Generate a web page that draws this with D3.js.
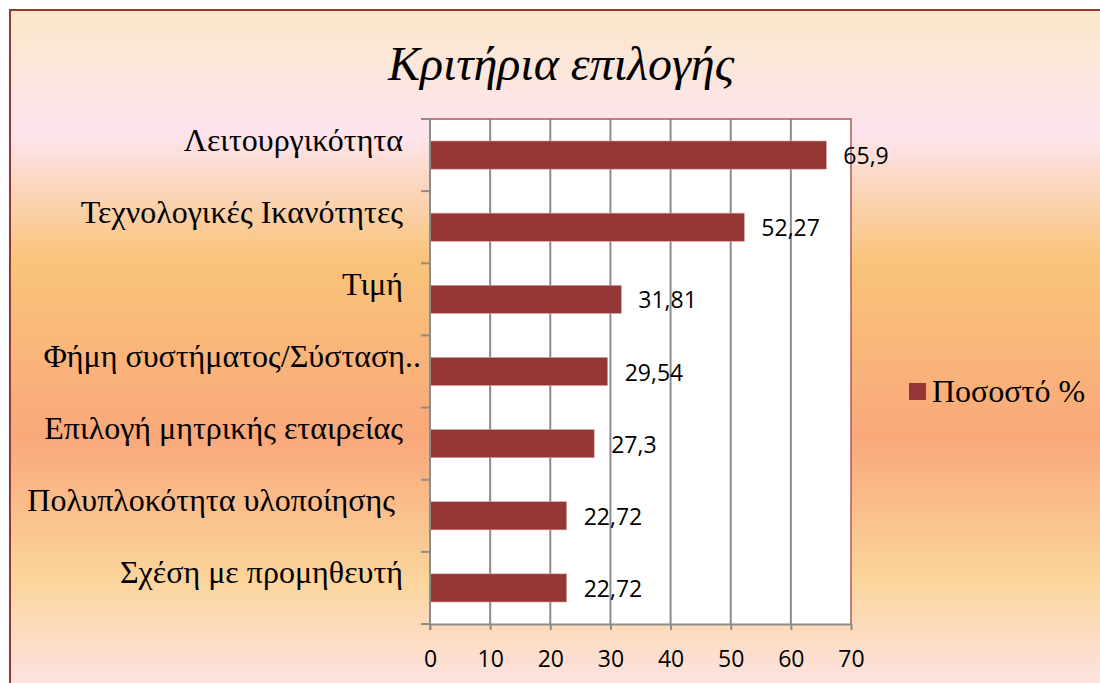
<!DOCTYPE html>
<html>
<head>
<meta charset="utf-8">
<script src="https://cdn.jsdelivr.net/npm/d3@7/dist/d3.min.js"></script>
<style>
  html, body { margin: 0; padding: 0; background: #ffffff; }
  svg { display: block; }
</style>
</head>
<body>
<svg id="chart" width="1100" height="683"></svg>
<script>
const title = "Κριτήρια επιλογής";
const categories = [
  "Λειτουργικότητα",
  "Τεχνολογικές Ικανότητες",
  "Τιμή",
  "Φήμη συστήματος/Σύσταση..",
  "Επιλογή μητρικής εταιρείας",
  "Πολυπλοκότητα υλοποίησης ",
  "Σχέση με προμηθευτή"
];
const values = [65.9, 52.27, 31.81, 29.54, 27.3, 22.72, 22.72];
const valueLabels = ["65,9", "52,27", "31,81", "29,54", "27,3", "22,72", "22,72"];
const xTicks = [0, 10, 20, 30, 40, 50, 60, 70];
const seriesName = "Ποσοστό %";

const W = 1100, H = 683;
const svg = d3.select("#chart");

// background gradient
const defs = svg.append("defs");
const grad = defs.append("linearGradient")
  .attr("id", "bg")
  .attr("gradientUnits", "userSpaceOnUse")
  .attr("x1", 0).attr("y1", 10).attr("x2", 0).attr("y2", 683);
[
  [10, "#fbe8c8"],
  [132, "#fde4ef"],
  [260, "#f9c47a"],
  [437, "#f9a87a"],
  [580, "#fbd59c"],
  [683, "#fde2e0"]
].forEach(([y, c]) => grad.append("stop").attr("offset", ((y - 10) / 673)).attr("stop-color", c));

svg.append("rect").attr("x", 10).attr("y", 10).attr("width", W + 10).attr("height", H + 10)
  .attr("fill", "url(#bg)").attr("stroke", "#953735").attr("stroke-width", 2);

const plot = { left: 430, right: 851, top: 119, bottom: 624 };

const x = d3.scaleLinear().domain([0, 70]).range([plot.left, plot.right]);
const y = d3.scaleBand().domain(categories).range([plot.top, plot.bottom]).paddingInner(0.61).paddingOuter(0.305);
const yb = d3.scaleBand().domain(categories).range([plot.top, plot.bottom]);

// plot background
svg.append("rect").attr("x", plot.left).attr("y", plot.top)
  .attr("width", plot.right - plot.left).attr("height", plot.bottom - plot.top)
  .attr("fill", "#ffffff");

// gridlines
svg.append("g").selectAll("line").data(xTicks.slice(1, -1)).join("line")
  .attr("x1", d => x(d)).attr("x2", d => x(d))
  .attr("y1", plot.top).attr("y2", plot.bottom)
  .attr("stroke", "#8c8c8c").attr("stroke-width", 2);

// plot border top/right in red
svg.append("path")
  .attr("d", `M${plot.left},${plot.top}H${plot.right}V${plot.bottom}`)
  .attr("fill", "none").attr("stroke", "#b0585a").attr("stroke-width", 1.5);

// bars
svg.append("g").selectAll("rect").data(categories).join("rect")
  .attr("x", x(0)).attr("y", d => y(d))
  .attr("width", (d, i) => x(values[i]) - x(0))
  .attr("height", y.bandwidth())
  .attr("fill", "#943634")
  .attr("stroke", "#d9a0a0").attr("stroke-width", 0.6);

// value labels
svg.append("g").selectAll("text").data(categories).join("text")
  .attr("x", (d, i) => x(values[i]) + 17)
  .attr("y", d => y(d) + y.bandwidth() / 2 + 9)
  .attr("font-family", "'Open Sans', sans-serif")
  .attr("font-size", 23)
  .attr("fill", "#000")
  .text((d, i) => valueLabels[i]);

// x axis
const xAxis = d3.axisBottom(x).tickValues(xTicks).tickSize(6).tickSizeOuter(0).tickPadding(4).tickFormat(d3.format("d"));
const gx = svg.append("g").attr("transform", `translate(0,${plot.bottom})`).call(xAxis);
gx.select(".domain").attr("stroke", "#8c8c8c").attr("stroke-width", 2);
gx.selectAll(".tick line").attr("stroke", "#8c8c8c").attr("stroke-width", 2);
gx.selectAll(".tick text").attr("font-family", "'Open Sans', sans-serif").attr("font-size", 23)
  .attr("fill", "#000").attr("dy", null).attr("y", 43);

// y axis
svg.append("line").attr("x1", plot.left).attr("x2", plot.left).attr("y1", plot.top - 1).attr("y2", plot.bottom + 6)
  .attr("stroke", "#8c8c8c").attr("stroke-width", 2);
const bounds = categories.map(d => yb(d)).concat([plot.bottom]);
svg.append("g").selectAll("line").data(bounds).join("line")
  .attr("x1", plot.left - 9).attr("x2", plot.left)
  .attr("y1", d => d).attr("y2", d => d)
  .attr("stroke", "#8c8c8c").attr("stroke-width", 2);

// category labels
svg.append("g").selectAll("text").data(categories).join("text")
  .attr("x", (d, i) => i === 3 ? 421 : 403)
  .attr("y", d => yb(d) + yb.bandwidth() / 2 - 4.5)
  .attr("text-anchor", "end")
  .style("white-space", "pre")
  .attr("font-family", "'Liberation Serif', 'Times New Roman', serif")
  .attr("font-size", 32)
  .attr("fill", "#000")
  .text(d => d);

// title
svg.append("text").attr("x", 561).attr("y", 80).attr("text-anchor", "middle")
  .attr("font-family", "'Liberation Serif', 'Times New Roman', serif")
  .attr("font-style", "italic").attr("font-size", 48).attr("fill", "#000")
  .text(title);

// legend
const lg = svg.append("g");
lg.append("rect").attr("x", 909).attr("y", 383).attr("width", 17).attr("height", 17).attr("fill", "#943634");
lg.append("text").attr("x", 932).attr("y", 402)
  .attr("font-family", "'Liberation Serif', 'Times New Roman', serif")
  .attr("font-size", 32).attr("fill", "#000").text(seriesName);
</script>
</body>
</html>
